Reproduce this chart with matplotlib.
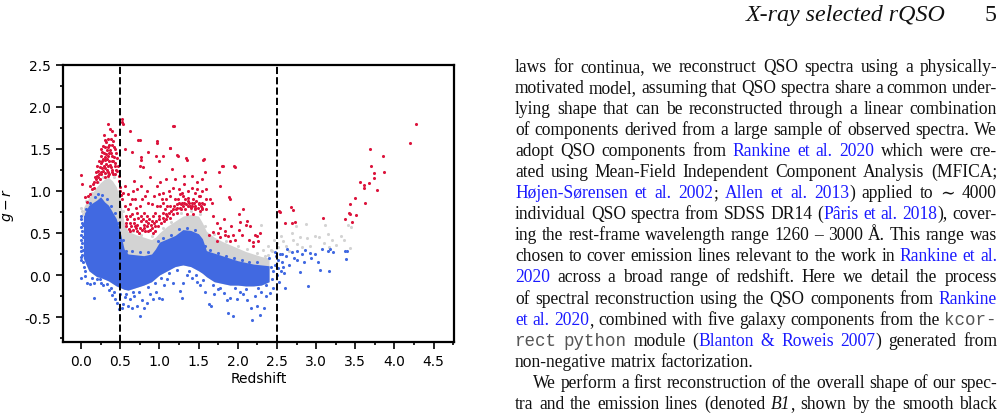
import matplotlib
matplotlib.use("Agg")
import matplotlib.pyplot as plt
from matplotlib.ticker import MultipleLocator
import numpy as np

# dense core of the QSO colour track (envelopes)
core_z = [0.03, 0.1, 0.2, 0.25, 0.3, 0.35, 0.4, 0.45, 0.5, 0.55, 0.6, 0.7, 0.8, 0.9, 0.95,
          1.0, 1.1, 1.2, 1.3, 1.4, 1.5, 1.55, 1.6, 1.7, 1.8, 1.9, 2.0, 2.1, 2.2, 2.3, 2.4]
blue_lo = [0.2, 0.05, -0.02, -0.03, -0.05, -0.07, -0.1, -0.13, -0.15, -0.17, -0.18, -0.15, -0.12, -0.08, -0.04,
           0.0, 0.05, 0.1, 0.12, 0.1, 0.05, 0.02, -0.02, -0.08, -0.1, -0.12, -0.12, -0.13, -0.13, -0.12, -0.08]
blue_hi = [0.71, 0.83, 0.89, 0.93, 0.87, 0.83, 0.75, 0.67, 0.51, 0.31, 0.25, 0.24, 0.23, 0.25, 0.31,
           0.39, 0.43, 0.47, 0.54, 0.53, 0.49, 0.43, 0.29, 0.26, 0.23, 0.2, 0.17, 0.15, 0.13, 0.12, 0.11]
grey_hi = [0.8, 0.92, 1.05, 1.1, 1.14, 1.16, 1.12, 1.05, 0.9, 0.62, 0.52, 0.48, 0.45, 0.42, 0.45,
           0.5, 0.58, 0.64, 0.7, 0.72, 0.7, 0.62, 0.52, 0.45, 0.4, 0.36, 0.32, 0.28, 0.25, 0.22, 0.2]

# sparse blue points (redshift, g-r)
blue_pts = [
    (0.0, 0.70), (0.0, 0.66), (0.01, 0.62), (0.0, 0.57), (0.01, 0.52), (0.0, 0.47), (0.0, 0.42),
    (0.01, 0.38), (0.0, 0.33), (0.0, 0.28), (0.01, 0.24), (0.0, 0.21), (0.0, 0.18), (0.0, -0.04),
    (0.02, 0.6), (0.02, 0.45), (0.02, 0.3), (0.03, 0.15), (0.04, 0.1), (0.05, 0.05),
    (0.05, -0.01), (0.08, -0.09), (0.11, -0.11), (0.16, -0.09), (0.17, -0.27), (0.2, -0.05),
    (0.24, -0.05), (0.28, -0.12), (0.33, -0.11), (0.36, -0.18), (0.39, -0.24), (0.42, -0.2),
    (0.46, -0.33), (0.48, -0.41), (0.44, -0.28),
    (0.52, -0.39), (0.54, -0.35), (0.56, -0.26), (0.6, -0.37), (0.62, -0.28), (0.65, -0.39),
    (0.68, -0.25), (0.71, -0.37), (0.75, -0.49), (0.78, -0.3), (0.8, -0.39), (0.84, -0.33),
    (0.88, -0.22), (0.92, -0.29), (0.96, -0.2), (0.99, -0.27), (1.03, -0.29), (1.06, -0.12),
    (1.1, -0.05), (1.18, -0.09), (1.26, -0.19), (1.29, -0.27), (1.3, -0.09), (1.35, 0.0),
    (1.42, -0.04), (1.48, -0.08), (1.52, -0.12),
    (1.58, -0.2), (1.63, -0.35), (1.66, -0.37), (1.7, -0.22), (1.75, -0.17), (1.82, -0.21),
    (1.86, -0.3), (1.88, -0.45), (1.9, -0.27), (1.94, -0.49), (1.99, -0.29), (2.03, -0.2),
    (2.07, -0.23), (2.12, -0.3), (2.17, -0.39), (2.18, -0.53), (2.22, -0.25), (2.24, -0.37),
    (2.28, -0.47), (2.3, -0.2), (2.33, -0.39), (2.36, -0.25), (2.41, -0.21), (2.45, -0.15),
    (2.42, 0.1), (2.44, -0.05), (2.47, 0.12), (2.49, 0.22), (2.51, 0.08), (2.53, -0.08),
    (2.55, 0.05), (2.57, 0.25), (2.59, 0.02),
    (2.4, 0.2), (2.45, 0.05), (2.48, 0.27), (2.5, 0.0), (2.52, 0.18), (2.54, 0.25), (2.56, 0.15),
    (2.58, 0.1), (2.6, -0.16), (2.62, 0.22), (2.63, 0.31), (2.66, 0.12), (2.69, 0.27), (2.72, 0.2),
    (2.75, 0.29), (2.76, 0.18), (2.79, 0.03), (2.82, 0.25), (2.84, 0.16), (2.86, 0.3), (2.9, -0.13),
    (2.92, 0.26), (2.93, 0.2), (2.98, 0.25), (3.02, 0.15), (3.05, 0.06), (3.08, 0.31), (3.15, 0.29),
    (3.16, 0.05), (3.18, 0.31), (3.22, 0.27), (3.37, 0.29), (3.38, 0.19), (3.39, 0.29),
    # ragged edges of the dense track
    (0.06, 0.78), (0.12, 0.86), (0.18, 0.93), (0.22, 0.96), (0.27, 0.95), (0.33, 0.9), (0.38, 0.82),
    (0.43, 0.74), (0.47, 0.62), (0.53, 0.42), (0.57, 0.29), (0.65, 0.28), (0.75, 0.27), (0.85, 0.27),
    (0.98, 0.4), (1.05, 0.44), (1.15, 0.48), (1.25, 0.55), (1.35, 0.56), (1.45, 0.53), (1.58, 0.35),
    (1.65, 0.3), (1.75, 0.26), (1.85, 0.23), (1.95, 0.2), (2.05, 0.18), (2.15, 0.16), (2.25, 0.15),
    (0.14, -0.04), (0.26, -0.09), (0.38, -0.15), (0.5, -0.22), (0.58, -0.23), (0.66, -0.2),
    (0.74, -0.2), (0.86, -0.14), (0.95, -0.09), (1.02, -0.04), (1.12, 0.02), (1.22, 0.06),
    (1.38, 0.05), (1.47, 0.0), (1.56, -0.06), (1.68, -0.12), (1.78, -0.15), (1.96, -0.16),
    (2.1, -0.17), (2.26, -0.16), (2.36, -0.12),
]

# sparse grey points
grey_pts = [
    (0.0, 0.8), (0.01, 0.76), (0.02, 0.72), (2.3, 0.6), (2.32, 0.3), (2.38, 0.35), (2.42, 0.3),
    (2.46, 0.42), (2.5, 0.38), (2.52, 0.33), (2.55, 0.46), (2.58, 0.4), (2.62, 0.35), (2.65, 0.28),
    (2.69, 0.5), (2.7, 0.42), (2.74, 0.58), (2.75, 0.37), (2.79, 0.45), (2.82, 0.33), (2.87, 0.61),
    (2.88, 0.44), (2.92, 0.35), (2.98, 0.46), (3.04, 0.45), (3.1, 0.38), (3.12, 0.59), (3.15, 0.49),
    (3.16, 0.33), (3.2, 0.42), (3.25, 0.36), (3.32, 0.46), (3.36, 0.42), (3.41, 0.6), (3.43, 0.32),
    (3.45, 0.57), (2.44, 0.28), (2.35, 0.22),
    (0.06, 0.88), (0.14, 0.98), (0.22, 1.1), (0.28, 1.17), (0.34, 1.2), (0.42, 1.16), (0.48, 1.0),
    (0.53, 0.76), (0.57, 0.58), (0.66, 0.52), (0.76, 0.48), (0.9, 0.46), (1.05, 0.56), (1.15, 0.63),
    (1.28, 0.74), (1.4, 0.76), (1.52, 0.72), (1.58, 0.58), (1.7, 0.49), (1.85, 0.4), (2.0, 0.35),
    (2.12, 0.31), (2.25, 0.26), (2.38, 0.24),
]

# red (reddened) QSOs
red_pts = [
    (0.0, 1.19), (0.01, 1.08), (0.05, 0.93), (0.08, 0.87), (0.09, 0.94), (0.11, 0.96), (0.14, 1.02),
    (0.16, 1.11), (0.16, 1.03), (0.2, 1.18), (0.2, 1.1), (0.22, 1.24), (0.23, 1.35), (0.24, 1.28),
    (0.24, 1.14), (0.26, 1.41), (0.26, 1.2), (0.28, 1.53), (0.29, 1.29), (0.29, 1.67), (0.31, 1.61),
    (0.31, 1.37), (0.31, 1.16), (0.33, 1.49), (0.33, 1.25), (0.34, 1.79), (0.35, 1.41), (0.35, 1.18),
    (0.36, 1.55), (0.37, 1.73), (0.37, 1.49), (0.37, 1.31), (0.38, 1.45), (0.39, 1.55), (0.39, 1.22),
    (0.4, 1.71), (0.41, 1.59), (0.41, 1.35), (0.41, 1.2), (0.43, 1.66), (0.43, 1.29), (0.44, 1.5),
    (0.45, 1.45), (0.46, 1.39), (0.46, 1.24), (0.48, 1.18), (0.49, 1.12), (0.27, 1.46), (0.3, 1.52),
    (0.32, 1.32), (0.34, 1.22), (0.36, 1.36), (0.38, 1.28), (0.25, 1.33), (0.21, 1.29), (0.18, 1.17),
    (0.28, 1.24), (0.4, 1.42), (0.42, 1.52), (0.32, 1.58), (0.27, 1.27), (0.3, 1.21), (0.35, 1.3),
    (0.12, 1.06), (0.19, 1.22),
    (0.22, 1.16), (0.25, 1.22), (0.27, 1.35), (0.29, 1.45), (0.3, 1.4), (0.32, 1.44), (0.33, 1.38),
    (0.34, 1.52), (0.36, 1.2), (0.38, 1.62), (0.39, 1.35), (0.42, 1.4), (0.43, 1.2), (0.44, 1.33),
    (0.45, 1.25), (0.47, 1.3), (0.26, 1.5), (0.28, 1.38), (0.31, 1.27), (0.34, 1.62), (0.36, 1.45),
    (0.4, 1.25), (0.23, 1.2), (0.19, 1.14), (0.15, 1.08),
    (0.52, 1.86), (0.52, 1.82), (0.53, 1.8), (0.63, 1.71), (0.56, 1.5), (0.65, 1.46), (0.73, 1.61),
    (0.75, 1.6), (0.77, 1.4), (0.79, 1.28), (0.86, 1.46), (0.96, 1.42), (0.97, 1.59), (1.05, 1.42),
    (1.14, 1.51), (1.18, 1.77), (1.22, 1.43), (1.34, 1.39), (1.57, 1.38), (1.76, 1.22), (1.8, 1.3),
    (1.97, 1.28), (1.89, 0.93), (0.5, 1.0), (0.51, 0.95), (0.5, 1.05), (0.52, 0.9),
    (0.54, 0.98), (0.56, 0.82), (0.58, 0.7), (0.6, 0.78), (0.63, 0.62), (0.65, 0.9), (0.67, 1.12),
    (0.69, 0.58), (0.71, 0.74), (0.73, 0.68), (0.75, 1.29), (0.77, 1.37), (0.77, 1.06), (0.8, 0.6),
    (0.82, 0.52), (0.84, 0.7), (0.86, 0.86), (0.88, 1.16), (0.9, 0.64), (0.92, 0.5), (0.95, 0.74),
    (0.97, 1.57), (0.99, 1.35), (1.01, 1.1), (1.03, 0.9), (1.05, 0.98), (1.07, 0.78), (1.09, 0.66),
    (1.14, 1.51), (1.16, 1.26), (1.18, 1.04), (1.19, 1.77), (1.2, 0.9), (1.22, 0.74), (1.24, 1.41),
    (1.26, 0.96), (1.29, 0.86), (1.31, 1.08), (1.33, 0.78), (1.35, 1.37), (1.37, 0.92), (1.39, 0.82),
    (1.41, 1.04), (1.43, 0.9), (1.46, 0.78), (1.48, 1.02), (1.5, 0.84), (1.52, 0.94), (1.54, 0.78),
    (1.56, 1.37), (1.58, 1.22), (1.6, 0.9),
    (0.58, 0.58), (0.63, 0.52), (0.67, 0.66), (0.71, 0.52), (0.75, 0.56), (0.8, 0.74), (0.84, 0.58),
    (0.88, 0.54), (0.75, 0.82), (0.69, 0.9), (0.82, 0.94), (0.95, 0.58), (0.99, 0.7), (1.01, 0.82),
    (1.05, 0.74), (1.09, 0.9), (1.14, 0.82), (1.18, 0.78), (1.24, 0.9), (1.29, 0.98), (1.33, 0.9),
    (1.37, 0.82), (1.41, 0.86), (1.46, 0.82), (1.5, 0.94), (1.54, 0.86), (1.26, 0.8), (1.35, 0.72),
    (1.43, 0.72), (1.52, 0.76), (1.22, 0.84), (1.14, 0.94), (1.05, 0.86), (0.97, 0.82), (0.92, 0.7),
    (0.86, 0.62), (0.77, 0.64), (0.65, 0.72), (0.6, 0.96), (0.56, 1.06), (0.71, 1.02), (0.97, 1.06),
    (1.09, 1.14), (1.2, 1.14), (1.31, 1.18), (1.41, 1.18), (1.48, 1.1), (1.54, 1.14), (1.6, 1.02),
    (0.57, 0.62), (0.59, 0.66), (0.61, 0.55), (0.62, 0.7), (0.64, 0.58), (0.66, 0.54), (0.68, 0.62),
    (0.7, 0.56), (0.72, 0.6), (0.74, 0.5), (0.76, 0.7), (0.78, 0.54), (0.79, 0.66), (0.81, 0.56),
    (0.83, 0.64), (0.85, 0.52), (0.87, 0.66), (0.89, 0.6), (0.91, 0.56), (0.93, 0.62), (0.94, 0.52),
    (0.96, 0.64), (0.98, 0.58), (1.0, 0.66), (1.02, 0.62), (1.04, 0.68), (1.06, 0.64), (1.08, 0.72),
    (1.1, 0.7), (1.12, 0.74), (1.13, 0.68), (1.15, 0.76), (1.17, 0.72), (1.19, 0.82), (1.21, 0.78),
    (1.23, 0.8), (1.25, 0.86), (1.27, 0.84), (1.28, 0.78), (1.3, 0.82), (1.32, 0.86), (1.34, 0.84),
    (1.36, 0.88), (1.38, 0.86), (1.4, 0.8), (1.42, 0.82), (1.44, 0.86), (1.45, 0.8), (1.47, 0.88),
    (1.49, 0.8), (1.51, 0.86), (1.53, 0.82), (1.55, 0.8), (1.57, 0.84), (1.59, 0.78), (0.62, 0.84),
    (0.7, 0.8), (0.78, 0.9), (0.9, 0.84), (1.0, 0.96), (1.12, 1.0), (1.25, 1.02), (1.36, 1.0),
    (1.45, 0.98), (1.55, 1.0), (0.66, 1.0), (0.84, 1.0), (0.93, 0.94), (1.1, 0.82), (1.3, 0.94),
    (1.65, 0.9), (1.67, 0.86), (1.69, 0.7), (1.73, 0.62), (1.75, 0.5), (1.78, 0.56), (1.82, 0.66),
    (1.84, 0.52), (1.88, 0.46), (1.9, 0.9), (1.92, 0.58), (1.95, 1.29), (1.97, 0.42), (2.01, 0.72),
    (2.05, 0.48), (2.07, 0.78), (2.12, 0.64), (2.14, 0.42), (2.16, 0.58), (2.2, 0.35), (2.24, 0.46),
    (2.28, 0.5), (1.78, 1.06), (1.81, 1.29),
    (1.63, 0.47), (1.69, 0.51), (1.73, 0.41), (1.77, 0.45), (1.84, 0.47), (1.9, 0.41), (1.94, 0.47),
    (2.01, 0.53), (2.03, 0.63), (2.11, 0.59), (2.2, 0.39), (2.22, 0.47), (2.26, 0.41),
    (2.53, 0.76), (2.54, 0.75), (2.6, 0.62), (2.68, 0.81), (2.69, 0.62), (2.7, 0.77), (2.73, 0.63),
    (3.09, 0.68), (3.37, 0.66), (3.42, 0.74), (3.43, 0.84), (3.43, 0.72), (3.46, 0.63), (3.5, 0.91),
    (3.51, 0.71), (3.56, 1.1), (3.61, 1.07), (3.61, 1.03), (3.63, 0.86), (3.67, 1.09), (3.69, 1.5),
    (3.7, 1.29), (3.74, 1.21), (3.74, 1.15), (3.78, 1.01), (3.85, 1.42), (3.87, 1.22), (4.2, 1.57),
    (4.27, 1.8),
]

z_cuts = [0.5, 2.5]

header = "X-ray selected rQSO"
page_no = "5"
# [..] = citation link, `..` = typewriter, _.._ = italic
body = [
    "laws for continua, we reconstruct QSO spectra using a physically-",
    "motivated model, assuming that QSO spectra share a common under-",
    "lying shape that can be reconstructed through a linear combination",
    "of components derived from a large sample of observed spectra. We",
    "adopt QSO components from [Rankine et al. 2020] which were cre-",
    "ated using Mean-Field Independent Component Analysis (MFICA;",
    "[Højen-Sørensen et al. 2002]; [Allen et al. 2013]) applied to \u223c 4000",
    "individual QSO spectra from SDSS DR14 ([Pâris et al. 2018]), cover-",
    "ing the rest-frame wavelength range 1260 \u2013 3000 Å. This range was",
    "chosen to cover emission lines relevant to the work in [Rankine et al.]",
    "[2020] across a broad range of redshift. Here we detail the process",
    "of spectral reconstruction using the QSO components from [Rankine]",
    "[et al. 2020], combined with five galaxy components from the `kcor-`",
    "`rect python` module ([Blanton & Roweis 2007]) generated from",
    "non-negative matrix factorization.",
    "We perform a first reconstruction of the overall shape of our spec-",
    "tra and the emission lines (denoted _B1_, shown by the smooth black",
]
ragged = {14}
indented = {15}

W, H = 1007, 414
fig = plt.figure(figsize=(W / 100, H / 100), dpi=100)
ax = fig.add_axes([63 / W, 1 - 343.3 / H, (454 - 63) / W, (343.3 - 65.7) / H])

ax.fill_between(core_z, blue_lo, grey_hi, color="lightgrey", lw=0, zorder=1)
ax.fill_between(core_z, blue_lo, blue_hi, color="royalblue", lw=0, zorder=2)
for pts, col in [(grey_pts, "lightgrey"), (blue_pts, "royalblue"), (red_pts, "crimson")]:
    zz, gg = zip(*pts)
    ax.scatter(zz, gg, s=5, c=col, lw=0, zorder=3)
for zc in z_cuts:
    ax.axvline(zc, color="k", ls="--", lw=1.4, zorder=4)

ax.set_xlim(-0.23, 4.76)
ax.set_ylim(-0.8, 2.5)
ax.xaxis.set_minor_locator(MultipleLocator(0.25))
ax.yaxis.set_minor_locator(MultipleLocator(0.25))
ax.set_xticks(np.arange(0, 4.6, 0.5))
ax.set_xticklabels([f"{v:.1f}" for v in np.arange(0, 4.6, 0.5)])
ax.set_yticks(np.arange(-0.5, 2.6, 0.5))
ax.set_yticklabels([f"{v:.1f}" for v in np.arange(-0.5, 2.6, 0.5)])
ax.tick_params(which="both", direction="out", width=1.2, labelsize=10)
ax.tick_params(which="major", length=5)
ax.tick_params(which="minor", length=2.5)
for sp in ax.spines.values():
    sp.set_linewidth(1.6)
ax.set_xlabel("Redshift", fontsize=10, labelpad=2)
ax.set_ylabel("$g-r$", fontsize=10, labelpad=6)

# ---- page text on the right ----
SERIF = ["Liberation Serif", "DejaVu Serif"]
STYLES = {
    "n": dict(family=SERIF, color="#111111"),
    "link": dict(family=SERIF, color="#1a1aff"),
    "mono": dict(family=["Liberation Mono", "DejaVu Sans Mono"], color="#555555"),
    "it": dict(family=SERIF, style="italic", color="#111111"),
}
renderer = fig.canvas.get_renderer()


def px(x, y):
    return x / W, 1 - y / H


def text_w(s, style, size):
    t = fig.text(0, 0, s, fontsize=size, **STYLES[style])
    w = t.get_window_extent(renderer).width
    t.remove()
    return w


def parse(line):
    tokens = []
    link = mono = it = False
    for word in line.split(" "):
        pieces, cur = [], ""
        for ch in word:
            if ch in "[]`_":
                if cur:
                    pieces.append((cur, "mono" if mono else "link" if link else "it" if it else "n"))
                    cur = ""
                if ch == "[":
                    link = True
                elif ch == "]":
                    link = False
                elif ch == "`":
                    mono = not mono
                else:
                    it = not it
            else:
                cur += ch
        if cur:
            pieces.append((cur, "mono" if mono else "link" if link else "it" if it else "n"))
        tokens.append(pieces)
    return tokens


left, right = 515, 997
indent = 18
base0 = 72.0
lead = 21.05
fs0 = 10.0
parsed = [parse(l) for l in body]

# font size chosen so that the tightest justified line keeps ~3.8px word gaps
fs = 13.0
for i, toks in enumerate(parsed):
    if i in ragged:
        continue
    w0 = sum(text_w(s, st, fs0) for tk in toks for s, st in tk)
    avail = right - left - (indent if i in indented else 0) - 3.8 * (len(toks) - 1)
    fs = min(fs, fs0 * avail / w0)

space_w = text_w("a a", "n", fs) - text_w("aa", "n", fs)
for i, toks in enumerate(parsed):
    y = base0 + i * lead
    x0 = left + (indent if i in indented else 0)
    widths = [[text_w(s, st, fs) for s, st in tk] for tk in toks]
    total = sum(sum(w) for w in widths)
    if i in ragged:
        gap = space_w
    else:
        gap = (right - x0 - total) / (len(toks) - 1)
    x = x0
    for tk, ws in zip(toks, widths):
        for (s, st), w in zip(tk, ws):
            fig.text(*px(x, y), s, fontsize=fs, ha="left", va="baseline", **STYLES[st])
            x += w
        x += gap

# running head
hs = 10.0 * 200 / text_w(header, "it", 10.0)
fig.text(*px(946, 21), header, fontsize=hs, ha="right", va="baseline", **STYLES["it"])
fig.text(*px(997, 21), page_no, fontsize=hs, ha="right", va="baseline", **STYLES["n"])

fig.savefig("out.png", dpi=100)
